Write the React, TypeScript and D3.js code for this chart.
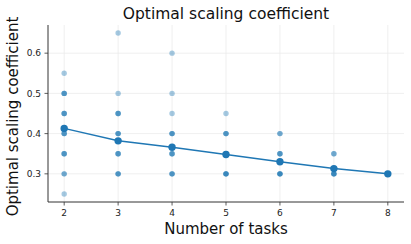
import React from 'react';
import * as d3 from 'd3';

// chart size
const width = 411;
const height = 244;
const margin = { top: 25, right: 7, bottom: 42, left: 48 };

// mean optimal coefficient per number of tasks
const tasks = [2, 3, 4, 5, 6, 7, 8];
const meanCoef = [0.413, 0.382, 0.366, 0.348, 0.33, 0.313, 0.3];

// individual runs (repeated values stack up and look darker)
const runsBy2 = [0.55, 0.5, 0.5, 0.5, 0.45, 0.45, 0.45, 0.4, 0.4, 0.4, 0.35, 0.35, 0.35, 0.3, 0.3, 0.25];
const runsBy3 = [0.65, 0.5, 0.45, 0.45, 0.45, 0.4, 0.4, 0.4, 0.35, 0.35, 0.35, 0.3, 0.3, 0.3];
const runsBy4 = [0.6, 0.5, 0.45, 0.4, 0.4, 0.4, 0.35, 0.35, 0.35, 0.3, 0.3, 0.3];
const runsBy5 = [0.45, 0.4, 0.4, 0.4, 0.35, 0.35, 0.3, 0.3, 0.3, 0.3];
const runsBy6 = [0.4, 0.4, 0.35, 0.35, 0.35, 0.3, 0.3, 0.3, 0.3];
const runsBy7 = [0.35, 0.35, 0.3, 0.3, 0.3, 0.3];
const runsBy8 = [0.3, 0.3, 0.3, 0.3];
const runs = [runsBy2, runsBy3, runsBy4, runsBy5, runsBy6, runsBy7, runsBy8];

const yTicks = [0.3, 0.4, 0.5, 0.6];

const blue = '#1f77b4';
const font = '"DejaVu Sans", sans-serif';

const App = () => {
  const xScale = d3.scaleLinear()
    .domain([1.7, 8.3])
    .range([margin.left, width - margin.right]);
  const yScale = d3.scaleLinear()
    .domain([0.23, 0.67])
    .range([height - margin.bottom, margin.top]);

  const line = d3.line<number>()
    .x((d, i) => xScale(tasks[i]))
    .y(d => yScale(d));

  const x0 = margin.left;
  const x1 = width - margin.right;
  const y0 = height - margin.bottom;
  const y1 = margin.top;

  return (
    <svg width={width} height={height}
      style={{ position: 'absolute', left: 0, top: 0, background: '#fff' }}
      fontFamily={font}>
      {/* grid */}
      {tasks.map(t => (
        <line key={'gx' + t} x1={xScale(t)} x2={xScale(t)} y1={y1} y2={y0}
          stroke="#ebebeb" strokeWidth={0.8} />
      ))}
      {yTicks.map(t => (
        <line key={'gy' + t} x1={x0} x2={x1} y1={yScale(t)} y2={yScale(t)}
          stroke="#ebebeb" strokeWidth={0.8} />
      ))}

      {/* scatter of runs */}
      {runs.map((vals, i) => vals.map((v, j) => (
        <circle key={`p${i}-${j}`} cx={xScale(tasks[i])} cy={yScale(v)} r={2.7}
          fill={blue} fillOpacity={0.4} />
      )))}

      {/* mean line */}
      <path d={line(meanCoef) || ''} fill="none" stroke={blue} strokeWidth={1.5} />
      {meanCoef.map((v, i) => (
        <circle key={'m' + i} cx={xScale(tasks[i])} cy={yScale(v)} r={3.7} fill={blue} />
      ))}

      {/* axes */}
      <line x1={x0} x2={x1} y1={y0} y2={y0} stroke="#333" strokeWidth={1} />
      <line x1={x0} x2={x0} y1={y1} y2={y0} stroke="#333" strokeWidth={1} />
      {tasks.map(t => (
        <g key={'tx' + t}>
          <line x1={xScale(t)} x2={xScale(t)} y1={y0} y2={y0 + 3.5} stroke="#333" strokeWidth={0.8} />
          <text x={xScale(t)} y={y0 + 14} textAnchor="middle" fontSize={9} fill="#222">{t}</text>
        </g>
      ))}
      {yTicks.map(t => (
        <g key={'ty' + t}>
          <line x1={x0 - 3.5} x2={x0} y1={yScale(t)} y2={yScale(t)} stroke="#333" strokeWidth={0.8} />
          <text x={x0 - 7} y={yScale(t) + 3.2} textAnchor="end" fontSize={9} fill="#222">{t.toFixed(1)}</text>
        </g>
      ))}

      {/* labels */}
      <text x={(x0 + x1) / 2} y={19} textAnchor="middle" fontSize={15.5} fill="#111">
        Optimal scaling coefficient
      </text>
      <text x={(x0 + x1) / 2} y={234} textAnchor="middle" fontSize={15} fill="#111">
        Number of tasks
      </text>
      <text transform={`translate(17.5,${(y0 + y1) / 2 + 3}) rotate(-90)`} textAnchor="middle"
        fontSize={15} fill="#111">
        Optimal scaling coefficient
      </text>
    </svg>
  );
};

export default App;
